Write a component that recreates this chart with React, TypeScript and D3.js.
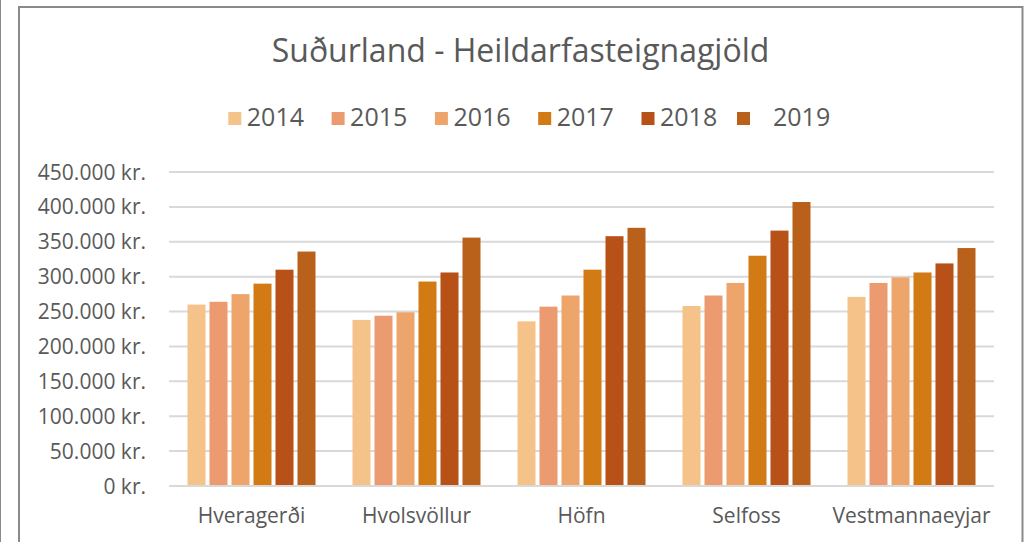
import React from "react";
import * as d3 from "d3";

const categories = ["Hveragerði", "Hvolsvöllur", "Höfn", "Selfoss", "Vestmannaeyjar"];
const years = ["2014", "2015", "2016", "2017", "2018", "2019"];
const v2014 = [260000, 238000, 236000, 258000, 271000];
const v2015 = [264000, 244000, 257000, 273000, 291000];
const v2016 = [275000, 249000, 273000, 291000, 299000];
const v2017 = [290000, 293000, 310000, 330000, 306000];
const v2018 = [310000, 306000, 358000, 366000, 319000];
const v2019 = [336000, 356000, 370000, 407000, 341000];
const seriesValues = [v2014, v2015, v2016, v2017, v2018, v2019];
const colors = ["#F5C38A", "#EB9B6F", "#EEA56B", "#D27A14", "#B85118", "#B9611A"];
const yTicks = [0, 50000, 100000, 150000, 200000, 250000, 300000, 350000, 400000, 450000];
const title = "Suðurland - Heildarfasteignagjöld";

const W = 1031;
const H = 542;
const plotLeft = 169;
const plotRight = 994;
const plotTop = 172;
const plotBottom = 486;
const textColor = "#595959";
const font = "'Open Sans', sans-serif";

const locale = d3.formatLocale({
  decimal: ",",
  thousands: ".",
  grouping: [3],
  currency: ["", " kr."],
});
const fmt = locale.format("$,");

export default function App() {
  const x0 = d3.scaleBand<string>().domain(categories).range([plotLeft, plotRight]);
  const groupW = 128;
  const x1 = d3
    .scaleBand<string>()
    .domain(years)
    .range([0, groupW])
    .paddingInner(4 / 22);
  const y = d3.scaleLinear().domain([0, 450000]).range([plotBottom, plotTop]);
  const groupOffset = (x0.bandwidth() - groupW) / 2;

  const legendX = d3.scaleLinear().domain([0, 1]).range([228.3, 331.6]);
  const legendSquare = (i: number) => (i === 5 ? 737 : legendX(i));
  const legendText = (i: number) => (i === 5 ? 773 : legendX(i) + 18.5);

  return (
    <svg
      width={W}
      height={H}
      style={{ position: "absolute", left: 0, top: 0, background: "#fff" }}
      fontFamily={font}
    >
      <rect x={0} y={0} width={W} height={H} fill="#fff" />
      <line x1={0.5} x2={0.5} y1={0} y2={H} stroke="#8a8a8a" strokeWidth={1} />
      <path
        d={`M19,${H} V7 H1022.5 V${H}`}
        fill="none"
        stroke="#8a8a8a"
        strokeWidth={2}
      />
      <text x={520.5} y={62} textAnchor="middle" fontSize={32} fill={textColor}>
        {title}
      </text>
      {years.map((yr, i) => (
        <g key={yr}>
          <rect x={legendSquare(i)} y={112} width={13} height={13} fill={colors[i]} />
          <text x={legendText(i)} y={126} fontSize={25} fill={textColor}>
            {yr}
          </text>
        </g>
      ))}
      {yTicks.map((t) => (
        <g key={t}>
          <line
            x1={plotLeft}
            x2={plotRight}
            y1={y(t)}
            y2={y(t)}
            stroke="#D9D9D9"
            strokeWidth={2}
          />
          <text
            x={146}
            y={y(t)}
            dy="0.36em"
            textAnchor="end"
            fontSize={21}
            fill={textColor}
          >
            {fmt(t)}
          </text>
        </g>
      ))}
      {categories.map((c, ci) => (
        <g key={c} transform={`translate(${x0(c)! + groupOffset},0)`}>
          {years.map((yr, si) => (
            <rect
              key={yr}
              x={x1(yr)}
              y={y(seriesValues[si][ci])}
              width={x1.bandwidth()}
              height={y(0) - y(seriesValues[si][ci]) - 1}
              fill={colors[si]}
            />
          ))}
        </g>
      ))}
      <line
        x1={plotLeft}
        x2={plotRight}
        y1={y(0)}
        y2={y(0)}
        stroke="#D9D9D9"
        strokeWidth={2}
      />
      {categories.map((c) => (
        <text
          key={c}
          x={x0(c)! + x0.bandwidth() / 2}
          y={523}
          textAnchor="middle"
          fontSize={21}
          fill={textColor}
        >
          {c}
        </text>
      ))}
    </svg>
  );
}
